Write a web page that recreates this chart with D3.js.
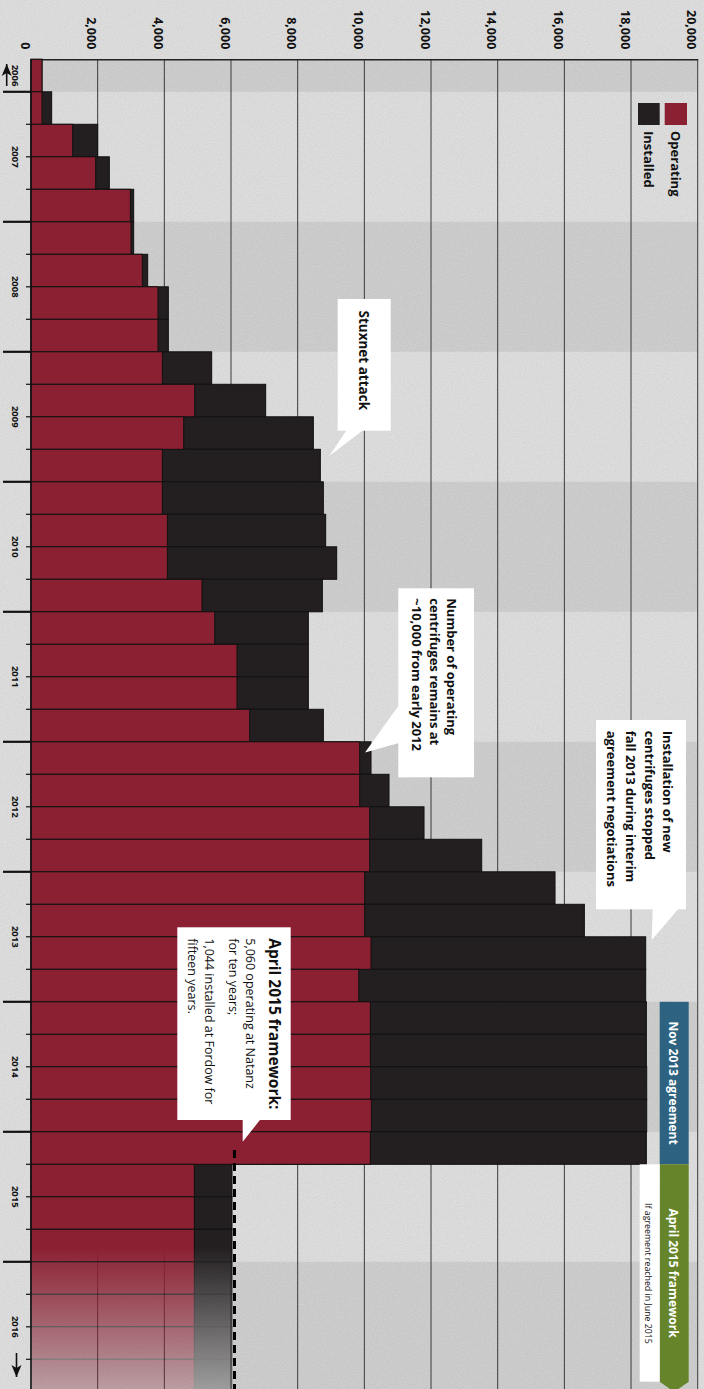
<!DOCTYPE html>
<meta charset="utf-8">
<style>
  body { margin: 0; background: #e3e3e3; }
  svg { display: block; font-family: "Open Sans", "Noto Sans", sans-serif; }
</style>

<!-- Load d3.js -->
<script src="https://d3js.org/d3.v7.min.js"></script>

<div id="chart"></div>
<script>
  // one row per quarter, Q4 2006 to Q4 2016
  const quarters = [
    "2006Q4",
    "2007Q1", "2007Q2", "2007Q3", "2007Q4",
    "2008Q1", "2008Q2", "2008Q3", "2008Q4",
    "2009Q1", "2009Q2", "2009Q3", "2009Q4",
    "2010Q1", "2010Q2", "2010Q3", "2010Q4",
    "2011Q1", "2011Q2", "2011Q3", "2011Q4",
    "2012Q1", "2012Q2", "2012Q3", "2012Q4",
    "2013Q1", "2013Q2", "2013Q3", "2013Q4",
    "2014Q1", "2014Q2", "2014Q3", "2014Q4",
    "2015Q1", "2015Q2", "2015Q3", "2015Q4",
    "2016Q1", "2016Q2", "2016Q3", "2016Q4"
  ];
  const operating = [
    330,
    330, 1250, 1940, 2980,
    3000, 3340, 3810, 3810,
    3940, 4910, 4580, 3940,
    3940, 4090, 4090, 5130,
    5510, 6180, 6180, 6560,
    9860, 9860, 10160, 10160,
    10010, 10010, 10200, 9830,
    10180, 10180, 10190, 10210,
    10180, 4900, 4900, 4900,
    4900, 4900, 4900, 4900
  ];
  const installed = [
    330,
    620, 2000, 2350, 3080,
    3080, 3500, 4120, 4120,
    5420, 7040, 8470, 8680,
    8770, 8840, 9170, 8740,
    8320, 8320, 8320, 8770,
    10200, 10740, 11790, 13520,
    15720, 16600, 18440, 18440,
    18460, 18460, 18470, 18470,
    18460, 6030, 6030, 6030,
    6030, 6030, 6030, 6030
  ];
  const years = ["2006", "2007", "2008", "2009", "2010", "2011", "2012", "2013", "2014", "2015", "2016"];
  const xTicks = [0, 2000, 4000, 6000, 8000, 10000, 12000, 14000, 16000, 18000, 20000];
  const frameworkLimit = 6104;

  const stuxnetText = ["Stuxnet attack"];
  const plateauText = ["Number of operating", "centrifuges remains at", "~10,000 from early 2012"];
  const stoppedText = ["Installation of new", "centrifuges stopped", "fall 2013 during interim", "agreement negotiations"];
  const aprilTitle = "April 2015 framework:";
  const aprilText = ["5,060 operating at Natanz", "for ten years;", "1,044 installed at Fordow for", "fifteen years."];

  const width = 704, height = 1389;
  const plotTop = 59.3, rowH = 32.5;
  const red = "#8b2032", black = "#231f20";

  const svg = d3.select("#chart")
    .append("svg")
    .attr("width", width)
    .attr("height", height);

  const defs = svg.append("defs");

  // paper texture
  const noise = defs.append("filter").attr("id", "noise")
    .attr("x", 0).attr("y", 0).attr("width", "100%").attr("height", "100%");
  noise.append("feTurbulence").attr("type", "fractalNoise")
    .attr("baseFrequency", 0.9).attr("numOctaves", 2).attr("seed", 3);
  noise.append("feColorMatrix").attr("type", "matrix")
    .attr("values", "0 0 0 0 0  0 0 0 0 0  0 0 0 0 0  0 0 0 0.09 0");

  // scales
  const x = d3.scaleLinear()
    .domain([0, 20000])
    .range([31, 697.7]);
  const y = d3.scaleBand()
    .domain(quarters)
    .range([plotTop, plotTop + rowH * quarters.length])
    .padding(0);
  const x0 = x(0), x1 = x(20000), yEnd = y.range()[1];

  // bars fade out after the present
  const fade = defs.append("linearGradient").attr("id", "fadeGrad")
    .attr("gradientUnits", "userSpaceOnUse")
    .attr("x1", 0).attr("x2", 0)
    .attr("y1", y("2016Q1") - 14).attr("y2", yEnd);
  fade.append("stop").attr("offset", 0).attr("stop-color", "#fff");
  fade.append("stop").attr("offset", 1).attr("stop-color", "#404040");
  defs.append("mask").attr("id", "fadeMask")
    .attr("maskUnits", "userSpaceOnUse")
    .attr("x", 0).attr("y", 0).attr("width", width).attr("height", height + 10)
    .append("rect")
    .attr("width", width).attr("height", height + 10)
    .attr("fill", "url(#fadeGrad)");

  // background
  svg.append("rect").attr("width", width).attr("height", height).attr("fill", "#e4e4e4");

  // alternating year bands
  svg.append("g")
    .selectAll("rect")
    .data(years.filter((d, i) => i % 2 === 0))
    .join("rect")
    .attr("x", x0)
    .attr("width", x1 - x0)
    .attr("y", d => y(quarters.find(q => q.startsWith(d))))
    .attr("height", d => quarters.filter(q => q.startsWith(d)).length * y.step())
    .attr("fill", "#d4d4d4");

  svg.append("rect").attr("width", width).attr("height", height)
    .attr("filter", "url(#noise)").attr("fill", "#fff");

  // vertical gridlines
  svg.append("g")
    .selectAll("line")
    .data(xTicks.filter(d => d > 0))
    .join("line")
    .attr("x1", d => x(d)).attr("x2", d => x(d))
    .attr("y1", plotTop).attr("y2", height)
    .attr("stroke", "#3a3a3a")
    .attr("stroke-width", 1);

  // top axis, labels sit just left of their gridline
  const xAxis = svg.append("g")
    .attr("transform", `translate(0,${plotTop})`)
    .call(d3.axisTop(x).tickValues(xTicks).tickSize(0).tickSizeOuter(0).tickFormat(d3.format(",")));
  xAxis.select(".domain").attr("stroke", "#222").attr("stroke-width", 1.5);
  xAxis.selectAll("text")
    .attr("transform", "translate(-6.5,0) rotate(90)")
    .attr("x", -10)
    .attr("y", 0)
    .attr("dy", "0.35em")
    .attr("text-anchor", "end")
    .attr("font-size", 12.5)
    .attr("font-weight", "bold")
    .attr("font-family", "'Open Sans', sans-serif")
    .attr("fill", "#111");

  // bars
  const bars = svg.append("g").attr("mask", "url(#fadeMask)");
  bars.selectAll(".inst")
    .data(quarters)
    .join("rect")
    .attr("class", "inst")
    .attr("x", x0)
    .attr("y", d => y(d))
    .attr("width", (d, i) => x(installed[i]) - x0)
    .attr("height", y.bandwidth())
    .attr("fill", black)
    .attr("stroke", "#111")
    .attr("stroke-width", 1);
  bars.selectAll(".oper")
    .data(quarters)
    .join("rect")
    .attr("class", "oper")
    .attr("x", x0)
    .attr("y", d => y(d))
    .attr("width", (d, i) => x(operating[i]) - x0)
    .attr("height", y.bandwidth())
    .attr("fill", red)
    .attr("stroke", "#111")
    .attr("stroke-width", 1);

  // time axis on the left
  svg.append("line")
    .attr("x1", x0).attr("x2", x0)
    .attr("y1", plotTop).attr("y2", height)
    .attr("stroke", "#111").attr("stroke-width", 1.5);
  svg.append("g")
    .selectAll("line")
    .data(quarters.slice(1))
    .join("line")
    .attr("x1", d => d.endsWith("Q1") ? 3 : 26)
    .attr("x2", x0)
    .attr("y1", d => y(d)).attr("y2", d => y(d))
    .attr("stroke", "#111")
    .attr("stroke-width", d => d.endsWith("Q1") ? 2.2 : 1.2);
  svg.append("g")
    .selectAll("text")
    .data(years)
    .join("text")
    .attr("transform", d => {
      const qs = quarters.filter(q => q.startsWith(d));
      const mid = y(qs[0]) + qs.length * y.step() / 2;
      return `translate(15,${mid}) rotate(90)`;
    })
    .attr("dy", "0.35em")
    .attr("text-anchor", "middle")
    .attr("font-size", 9.5)
    .attr("font-weight", "bold")
    .attr("fill", "#111")
    .text(d => d);

  // arrows at the ends of the time axis
  const arrow = (cx, y0, y1, dir) => {
    svg.append("line").attr("x1", cx).attr("x2", cx).attr("y1", y0).attr("y2", y1)
      .attr("stroke", "#111").attr("stroke-width", 1.6);
    svg.append("path")
      .attr("d", `M${cx},${y1} L${cx - 5},${y1 - dir * 12} L${cx},${y1 - dir * 9} L${cx + 5},${y1 - dir * 12} Z`)
      .attr("fill", "#111");
  };
  arrow(6.7, 86, 64, -1);
  arrow(16.5, 1353, 1377, 1);

  // framework limit
  svg.append("line")
    .attr("x1", x(frameworkLimit)).attr("x2", x(frameworkLimit))
    .attr("y1", 1150).attr("y2", height)
    .attr("stroke", "#000").attr("stroke-width", 3)
    .attr("stroke-dasharray", "8,5");

  // legend
  const legend = svg.append("g");
  legend.append("rect").attr("x", 664.7).attr("y", 103).attr("width", 22.3).attr("height", 22).attr("fill", red);
  legend.append("rect").attr("x", 638).attr("y", 103).attr("width", 21.7).attr("height", 22).attr("fill", black);
  [["Operating", 675.5], ["Installed", 649]].forEach(([t, cx]) => {
    legend.append("text")
      .attr("transform", `translate(${cx},131) rotate(90)`)
      .attr("dy", "0.35em")
      .attr("font-size", 13)
      .attr("font-weight", "bold")
      .attr("fill", "#111")
      .text(t);
  });

  // right side agreement periods
  const novTop = y("2014Q1"), novBottom = y("2015Q1") + y.bandwidth();
  svg.append("rect")
    .attr("x", 659.7).attr("y", novTop)
    .attr("width", 29).attr("height", novBottom - novTop)
    .attr("fill", "#2d6381");
  svg.append("path")
    .attr("d", `M659.7,${novBottom} H688.7 V1381.7 L674.2,1392 L659.7,1381.7 Z`)
    .attr("fill", "#66852a");
  svg.append("rect")
    .attr("x", 639.7).attr("y", novBottom)
    .attr("width", 20).attr("height", 1381.7 - novBottom)
    .attr("fill", "#fff");
  const vText = (cx, cy, t, size, weight, fill) => svg.append("text")
    .attr("transform", `translate(${cx},${cy}) rotate(90)`)
    .attr("dy", "0.35em")
    .attr("text-anchor", "middle")
    .attr("font-size", size)
    .attr("font-weight", weight)
    .attr("fill", fill)
    .text(t);
  vText(673, (novTop + novBottom) / 2, "Nov 2013 agreement", 12, "bold", "#fff");
  vText(673, 1273, "April 2015 framework", 12, "bold", "#fff");
  vText(648.5, 1273.5, "If agreement reached in June 2015", 8.8, "normal", "#111");

  // callouts
  function callout(box, pointer) {
    const g = svg.append("g");
    g.append("rect")
      .attr("x", box[0]).attr("y", box[1])
      .attr("width", box[2] - box[0]).attr("height", box[3] - box[1])
      .attr("fill", "#fff");
    g.append("path")
      .attr("d", "M" + pointer.map(p => p.join(",")).join(" L") + " Z")
      .attr("fill", "#fff");
    return g;
  }
  function lines(g, list, xs, y0, size, weight) {
    list.forEach((t, i) => {
      g.append("text")
        .attr("transform", `translate(${xs[i]},${y0}) rotate(90)`)
        .attr("dy", "0.35em")
        .attr("font-size", size)
        .attr("font-weight", weight)
        .attr("fill", "#111")
        .text(t);
    });
  }

  const c1 = callout([337.7, 299, 390.7, 430.7], [[346.7, 430], [363.3, 430], [329.3, 456]]);
  lines(c1, stuxnetText, [364], 310.5, 13.5, "bold");

  const c2 = callout([398.3, 588.3, 474, 777.3], [[399, 705], [399, 743], [365, 752.5]]);
  lines(c2, plateauText, [452, 434.5, 417], 598.3, 13, "bold");

  const c3 = callout([596, 720, 686, 909.3], [[652.7, 909], [678.3, 909], [651.7, 940]]);
  lines(c3, stoppedText, [667.5, 649.2, 630.5, 611.5], 730.7, 13, "bold");

  const c4 = callout([177.3, 927.3, 290.7, 1120], [[242.7, 1119], [260.7, 1119], [242.7, 1141.7]]);
  lines(c4, [aprilTitle], [274.5], 938.3, 15.5, "bold");
  lines(c4, aprilText, [250.5, 233.8, 209.5, 192.5], 938.3, 12.5, "normal");
</script>
